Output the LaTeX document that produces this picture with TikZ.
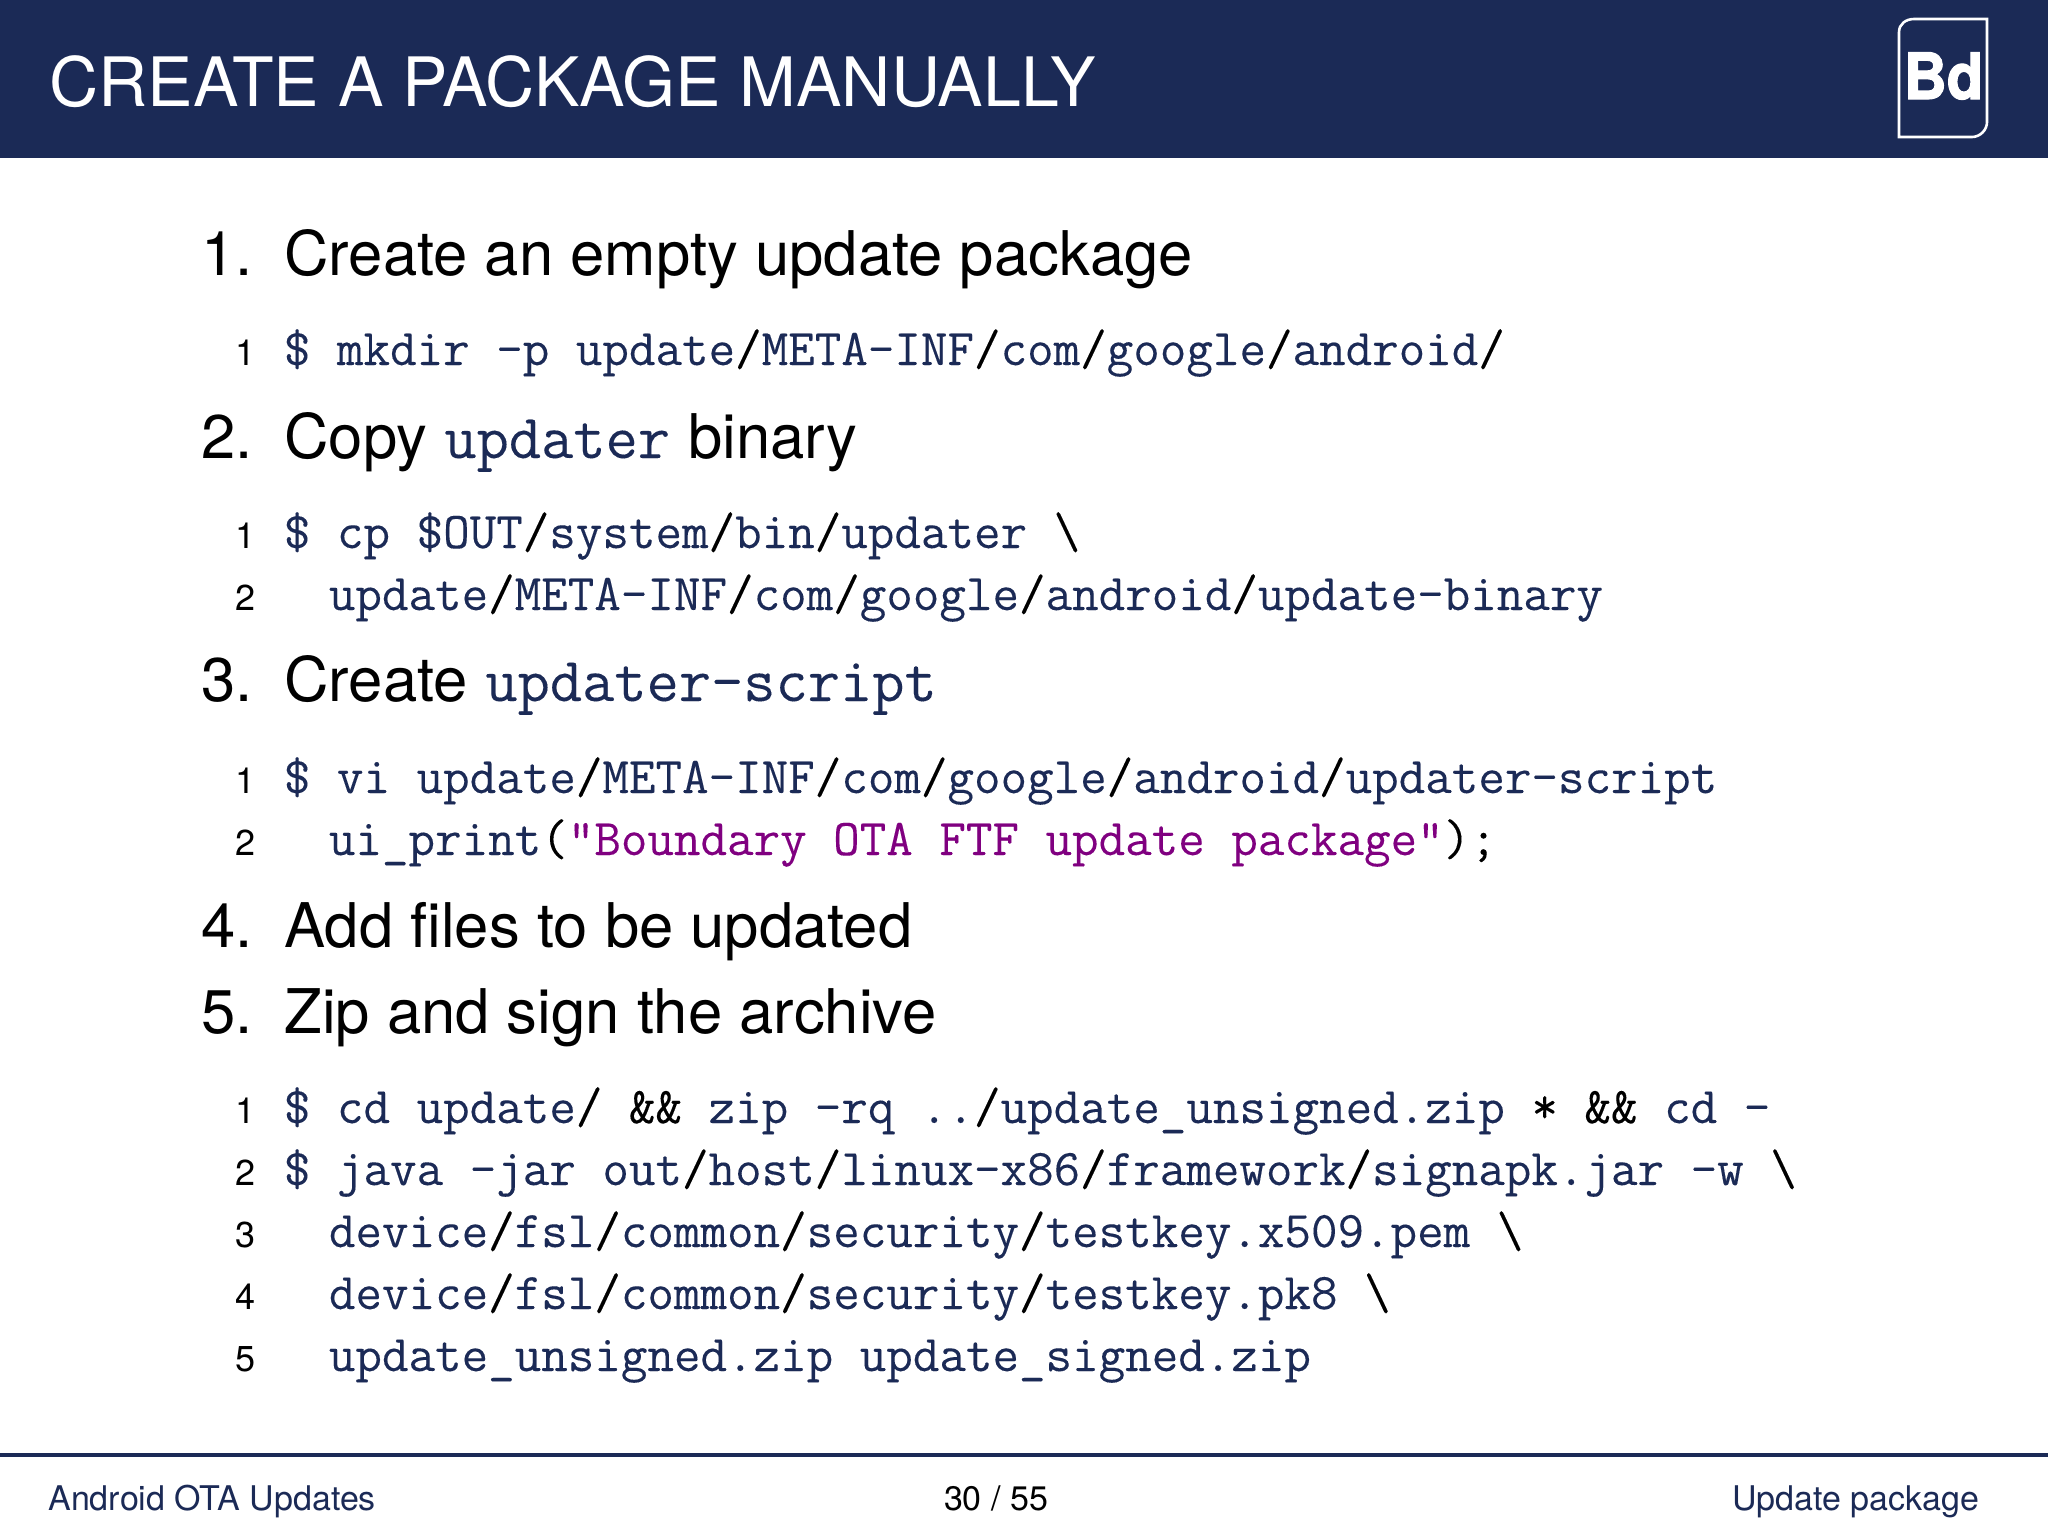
\documentclass[tikz,border=0pt]{standalone}
\usepackage{fontspec}
\setmainfont{TeX Gyre Heros}
\newfontfamily\codefont{Latin Modern Mono}[Ligatures=NoCommon,FakeBold=0.12]
\newfontfamily\logofont{TeX Gyre Heros}[Scale=1,FakeBold=1.8]
\definecolor{navy}{HTML}{1B2A56}
\definecolor{purp}{HTML}{800080}
\newcommand{\K}[1]{\textcolor{black}{#1}}
\newcommand{\St}[1]{\textcolor{purp}{#1}}
\tikzset{
 x=0.5pt,y=-0.5pt,
 head/.style={anchor=base west,inner sep=0,font=\fontsize{34.05}{34.05}\selectfont,black},
 code/.style={anchor=base west,inner sep=0,font=\fontsize{25.77}{25.77}\codefont,text=navy},
 num/.style={anchor=base,inner sep=0,font=\fontsize{18}{18}\selectfont,black},
 item/.style={anchor=base west,inner sep=0,font=\fontsize{30.8}{30.8}\selectfont,black},
 inl/.style={anchor=base west,inner sep=0,font=\fontsize{31.3}{31.3}\codefont,text=navy},
 foot/.style={anchor=base west,inner sep=0,font=\fontsize{17}{17}\selectfont,text=navy},
}
\begin{document}
\begin{tikzpicture}
\useasboundingbox (0,0) rectangle (2048,1536);
\fill[white] (0,0) rectangle (2048,1536);
\fill[navy] (0,0) rectangle (2048,158);
\node[head,text=white] (title) at (49,106) {CREATE A PACKAGE MANUALLY};
\draw[white,line width=1.3pt] (1899,137) -- (1899,32) .. controls (1899,24) and (1906,19) .. (1914,19) -- (1987,19) -- (1987,122) .. controls (1987,130) and (1980,137) .. (1972,137) -- cycle;
\node[anchor=base,inner sep=0,white,font=\fontsize{32}{32}\logofont\bfseries] (logo) at (1943.5,99) {\scalebox{0.93}[1]{Bd}};
% items
\node[item] (i1n) at (201,275) {1.};
\node[item] (i1) at (284,275) {Create an empty update package};
\node[item] (i2n) at (201,458) {2.};
\node[item] (i2) at (284,458) {Copy};
\node[inl] (i2c) at (444,458) {updater};
\node[item] (i2b) at (688,458) {binary};
\node[item] (i3n) at (201,701) {3.};
\node[item] (i3) at (284,701) {Create};
\node[inl] (i3c) at (485,701) {updater-script};
\node[item] (i4n) at (201,947) {4.};
\node[item] (i4) at (284,947) {Add files to be updated};
\node[item] (i5n) at (201,1033) {5.};
\node[item] (i5) at (284,1033) {Zip and sign the archive};
% code
\node[num] (n1) at (246,365) {1};
\node[code] (c1) at (283.5,365) {\$ mkdir -p update\K{/}META-INF\K{/}com\K{/}google\K{/}android\K{/}};
\node[num] (n2) at (246,548) {1};
\node[code] (c2) at (283.5,548) {\$ cp \$OUT\K{/}system\K{/}bin\K{/}updater \K{\textbackslash}};
\node[num] (n3) at (246,610) {2};
\node[code] (c3) at (328.5,610) {update\K{/}META-INF\K{/}com\K{/}google\K{/}android\K{/}update-binary};
\node[num] (n4) at (246,793) {1};
\node[code] (c4) at (283.5,793) {\$ vi update\K{/}META-INF\K{/}com\K{/}google\K{/}android\K{/}updater-script};
\node[num] (n5) at (246,855) {2};
\node[code] (c5) at (328.5,855) {ui\_print\K{(}\St{"Boundary OTA FTF update package"}\K{);}};
\node[num] (n6) at (246,1123) {1};
\node[code] (c6) at (283.5,1123) {\$ cd update\K{/} \K{\&\&} zip -rq ..\K{/}update\_unsigned.zip \K{*} \K{\&\&} cd -};
\node[num] (n7) at (246,1185) {2};
\node[code] (c7) at (283.5,1185) {\$ java -jar out\K{/}host\K{/}linux-x86\K{/}framework\K{/}signapk.jar -w \K{\textbackslash}};
\node[num] (n8) at (246,1247) {3};
\node[code] (c8) at (328.5,1247) {device\K{/}fsl\K{/}common\K{/}security\K{/}testkey.x509.pem \K{\textbackslash}};
\node[num] (n9) at (246,1309) {4};
\node[code] (c9) at (328.5,1309) {device\K{/}fsl\K{/}common\K{/}security\K{/}testkey.pk8 \K{\textbackslash}};
\node[num] (n10) at (246,1371) {5};
\node[code] (c10) at (328.5,1371) {update\_unsigned.zip update\_signed.zip};
% footer
\draw[navy,line width=1.7pt] (0,1455) -- (2048,1455);
\node[foot] (fl) at (48,1510) {Android OTA Updates};
\node[foot,anchor=base,text=black] (fc) at (996,1510) {30 / 55};
\node[foot,anchor=base east] (fr) at (1980,1510) {Update package};
\end{tikzpicture}
\end{document}
